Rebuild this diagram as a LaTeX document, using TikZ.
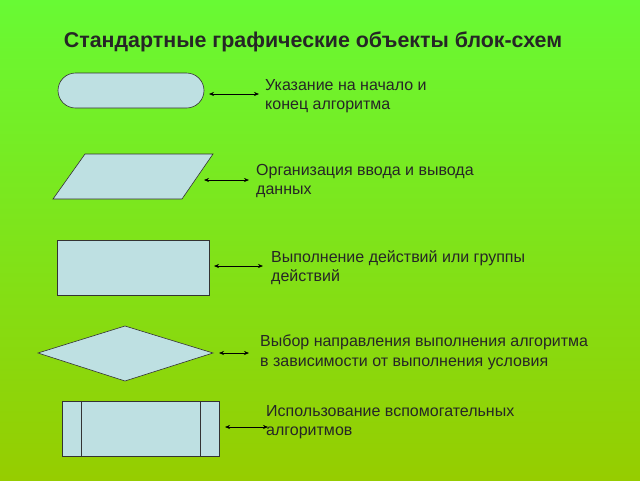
\documentclass[tikz,border=0pt]{standalone}
\usepackage{fontspec}
\setmainfont{Liberation Sans}
\usetikzlibrary{shapes.geometric,arrows.meta}
\definecolor{bgtop}{RGB}{104,250,52}
\definecolor{bgbot}{RGB}{150,205,0}
\definecolor{fillc}{RGB}{190,224,226}
\begin{document}
\begin{tikzpicture}[x=1pt,y=-1pt,
  shp/.style={draw=black!80,fill=fillc,line width=0.6pt},
  lbl/.style={anchor=north west,align=left,font=\fontsize{16}{19.5}\selectfont,inner sep=0pt,text=black!85},
  arr/.style={{Stealth[length=5pt,width=4pt]}-{Stealth[length=5pt,width=4pt]},line width=0.6pt}]
\useasboundingbox (0,0) rectangle (640,480);
\shade[shading angle=200,top color=bgtop,bottom color=bgbot] (0,0) rectangle (640,480);
\node[font=\bfseries\fontsize{21.4}{24}\selectfont,text=black!85] (title) at (313,42) {Стандартные графические объекты блок-схем};
% shapes
\draw[shp] (75.5,73) -- (186.5,73) arc[start angle=-90,end angle=90,radius=17.5] -- (75.5,108) arc[start angle=90,end angle=270,radius=17.5] -- cycle;
\coordinate (s1) at (209,94);
\draw[shp] (85,154) -- (213,154) -- (182,199) -- (53,199) -- cycle;
\coordinate (s2) at (204,180);
\draw[shp] (57,240) rectangle (209,295);
\coordinate (s3) at (214,266);
\draw[shp] (38,353) -- (125,326) -- (213,353) -- (125,381) -- cycle;
\coordinate (s4) at (219,353);
\draw[shp] (62,401) rectangle (219,456);
\draw[black!80,line width=0.6pt] (81,401) -- (81,456) (200,401) -- (200,456);
\coordinate (s5) at (225,427);
% labels
\node[lbl] (t1) at (265,79) {Указание на начало и\\конец алгоритма};
\node[lbl] (t2) at (256,164) {Организация ввода и вывода\\данных};
\node[lbl] (t3) at (271,250) {Выполнение действий или группы\\действий};
\node[lbl] (t4) at (260,335) {Выбор направления выполнения алгоритма\\в зависимости от выполнения условия};
\node[lbl] (t5) at (266,405) {Использование вспомогательных\\алгоритмов};
% arrows
\coordinate (e1) at (259,94);
\coordinate (e2) at (249,180);
\coordinate (e3) at (263,266);
\coordinate (e4) at (249,353);
\coordinate (e5) at (268,427);
\foreach \i in {1,...,5} \draw[arr] (s\i) -- (e\i);
\end{tikzpicture}
\end{document}
